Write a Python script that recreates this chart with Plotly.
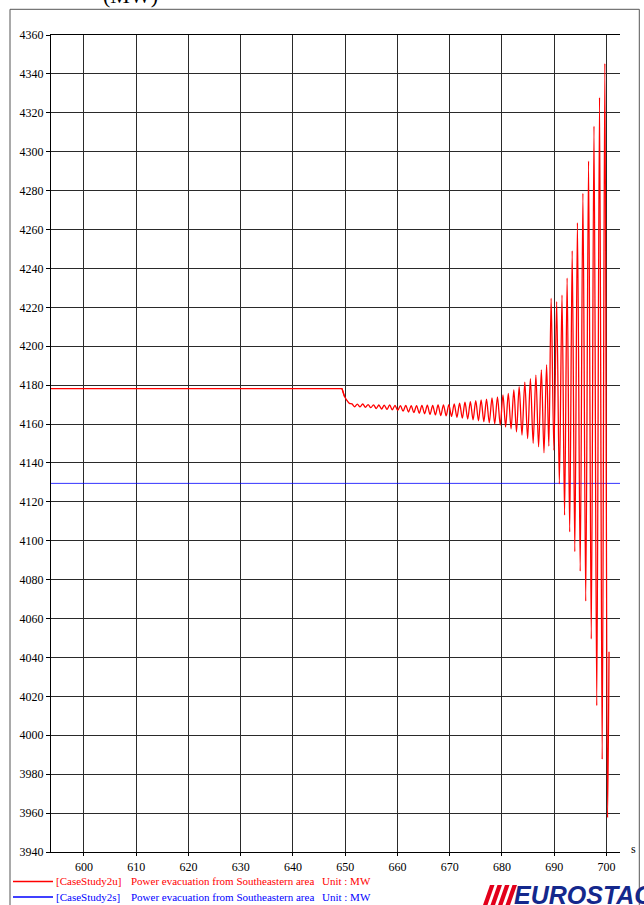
import plotly.graph_objects as go

# ---------------- data ----------------
flat_t = [590.0, 649.4, 649.9]
flat_v = [4178.2, 4178.2, 4174.0]

pre_t = [649.4, 649.9, 650.3, 650.8]
pre_v = [4178.2, 4174.0, 4172.3, 4170.6]

peak_t = [651.30, 652.33, 653.36, 654.39, 655.42, 656.45, 657.48, 658.51, 659.54, 660.57,
          661.60, 662.63, 663.66, 664.69, 665.72, 666.75, 667.78, 668.81, 669.84, 670.87,
          671.90, 672.93, 673.96, 674.99, 676.02, 677.05, 678.10, 679.15, 680.20, 681.22,
          682.28, 683.30, 684.38, 685.45, 686.50, 687.55, 688.55, 689.42, 690.48, 691.50,
          692.48, 693.45, 694.45, 695.50, 696.58, 697.62, 698.68, 699.70]
peak_v = [4170.4, 4170.2, 4170.3, 4170.0, 4169.9, 4169.8, 4169.7, 4169.8, 4169.6, 4169.5,
          4169.6, 4169.4, 4169.5, 4169.6, 4169.7, 4169.6, 4169.8, 4169.9, 4170.0, 4170.3,
          4170.7, 4171.2, 4171.5, 4172.0, 4172.4, 4172.8, 4173.4, 4174.0, 4175.0, 4175.8,
          4177.5, 4179.2, 4181.6, 4183.4, 4185.2, 4187.9, 4190.5, 4224.6, 4222.9, 4226.3,
          4235.0, 4249.0, 4263.5, 4278.6, 4295.2, 4313.2, 4328.0, 4345.4]

trough_t = [651.82, 652.85, 653.88, 654.91, 655.94, 656.97, 658.00, 659.03, 660.06, 661.09,
            662.12, 663.15, 664.18, 665.21, 666.24, 667.27, 668.30, 669.33, 670.36, 671.39,
            672.42, 673.45, 674.48, 675.51, 676.54, 677.58, 678.62, 679.68, 680.71, 681.75,
            682.79, 683.84, 684.92, 685.98, 687.02, 688.05, 688.98, 689.95, 690.99, 691.99,
            692.97, 693.95, 694.98, 696.04, 697.10, 698.15, 699.19, 700.22]
trough_v = [4168.9, 4168.8, 4168.6, 4168.4, 4168.0, 4167.7, 4167.5, 4167.3, 4167.0, 4166.6,
            4166.2, 4165.9, 4165.6, 4165.3, 4165.0, 4164.7, 4164.4, 4164.2, 4163.9, 4163.5,
            4163.0, 4162.6, 4162.2, 4161.7, 4161.2, 4160.6, 4160.1, 4159.4, 4158.5, 4157.5,
            4156.0, 4154.3, 4152.5, 4150.1, 4148.3, 4145.2, 4148.7, 4146.6, 4129.2, 4113.2,
            4104.6, 4094.4, 4084.4, 4069.0, 4049.5, 4015.2, 3987.6, 3957.6]

end_t = [700.5]
end_v = [4043.0]

blue_t = [590.0, 710.0]
blue_v = [4129.5, 4129.5]

x_ticks = [600, 610, 620, 630, 640, 650, 660, 670, 680, 690, 700]
y_ticks = list(range(3940, 4361, 20))

legend_rows = [
    ("[CaseStudy2u]", "Power evacuation from Southeastern area", "Unit : MW", "#ff0000"),
    ("[CaseStudy2s]", "Power evacuation from Southeastern area", "Unit : MW", "#0000ff"),
]

# ---------------- build red oscillation series ----------------
osc_t = list(pre_t)
osc_v = list(pre_v)
for pt, pv, tt, tv in zip(peak_t, peak_v, trough_t, trough_v):
    osc_t += [pt, tt]
    osc_v += [pv, tv]
osc_t += end_t
osc_v += end_v

# ---------------- layout geometry (pixels) ----------------
W, H = 644, 905
L, R, T, B = 51, 620, 35, 852
pw, ph = R - L, B - T


def px(x):
    return (x - L) / pw


def py(y):
    return (B - y) / ph


serif = "Liberation Serif"
RED = "#ff0000"
BLUE = "#0000ff"

fig = go.Figure()
fig.add_trace(go.Scatter(x=blue_t, y=blue_v, mode="lines",
                         line=dict(color=BLUE, width=0.8),
                         name="[CaseStudy2s] Power evacuation from Southeastern area"))
fig.add_trace(go.Scatter(x=flat_t, y=flat_v, mode="lines",
                         line=dict(color=RED, width=1.3),
                         name="[CaseStudy2u] Power evacuation from Southeastern area"))
fig.add_trace(go.Scatter(x=osc_t, y=osc_v, mode="lines",
                         line=dict(color=RED, width=1.3, shape="spline", smoothing=0.9),
                         name="[CaseStudy2u] Power evacuation from Southeastern area",
                         showlegend=False))

grid_col = "#2a2a2a"
fig.update_xaxes(range=[593.7, 702.6], tickvals=x_ticks, ticktext=[str(v) for v in x_ticks],
                 showgrid=True, gridcolor=grid_col, gridwidth=1.3,
                 showline=True, linecolor="#000", linewidth=1.3, mirror=True,
                 ticks="outside", ticklen=3, tickcolor="#000", tickwidth=1,
                 tickfont=dict(family=serif, size=12, color="#000"), zeroline=False)
fig.update_yaxes(range=[3940, 4360], tickvals=y_ticks, ticktext=[str(v) for v in y_ticks],
                 showgrid=True, gridcolor=grid_col, gridwidth=1.3,
                 showline=True, linecolor="#000", linewidth=1.3,
                 ticks="outside", ticklen=4, tickcolor="#000", tickwidth=1,
                 tickfont=dict(family=serif, size=12, color="#000"), zeroline=False)

shapes = []
# outer frame
shapes.append(dict(type="rect", xref="paper", yref="paper",
                   x0=px(10), x1=px(639.3), y0=py(915), y1=py(9.3),
                   line=dict(color="#555", width=1), fillcolor="rgba(0,0,0,0)", layer="below"))
annotations = []

# legend
for i, (case, desc, unit, col) in enumerate(legend_rows):
    yy = 881.5 + i * 15.5
    shapes.append(dict(type="line", xref="paper", yref="paper",
                       x0=px(13), x1=px(53), y0=py(yy), y1=py(yy),
                       line=dict(color=col, width=1.4)))
    for txt, xx in ((case, 53.5), (desc, 128.5), (unit, 319.5)):
        annotations.append(dict(text=txt, xref="paper", yref="paper", x=px(xx), y=py(yy),
                                xanchor="left", yanchor="middle", showarrow=False,
                                font=dict(family=serif, size=11, color=col)))

# unit label of x axis
annotations.append(dict(text="s", xref="paper", yref="paper", x=px(633), y=py(849),
                        xanchor="center", yanchor="middle", showarrow=False,
                        font=dict(family=serif, size=12, color="#000")))

# cut-off title at top
annotations.append(dict(text="(MW)", xref="paper", yref="paper", x=px(130), y=py(-5),
                        xanchor="center", yanchor="middle", showarrow=False,
                        font=dict(family=serif, size=22, color="#000")))

# EUROSTAG logo: red slanted bars + text
for k in range(4):
    x0 = 483 + k * 7.5
    path = (f"M {px(x0)},{py(905)} L {px(x0 + 4.5)},{py(905)} "
            f"L {px(x0 + 11.5)},{py(885)} L {px(x0 + 7)},{py(885)} Z")
    shapes.append(dict(type="path", xref="paper", yref="paper", path=path,
                       fillcolor="#e3001b", line=dict(width=0)))
annotations.append(dict(text="<b><i>EUROSTAG</i></b>", xref="paper", yref="paper",
                        x=px(512), y=py(895), xanchor="left", yanchor="middle",
                        showarrow=False,
                        font=dict(family="Liberation Sans", size=25, color="#14288c")))

fig.update_layout(width=W, height=H, margin=dict(l=L, r=W - R, t=T, b=H - B, pad=0),
                  paper_bgcolor="white", plot_bgcolor="white", showlegend=False,
                  shapes=shapes, annotations=annotations)

fig.write_html("out.html", config={"displayModeBar": False},
               post_script="document.body.style.margin='0';document.body.style.overflow='hidden';")
